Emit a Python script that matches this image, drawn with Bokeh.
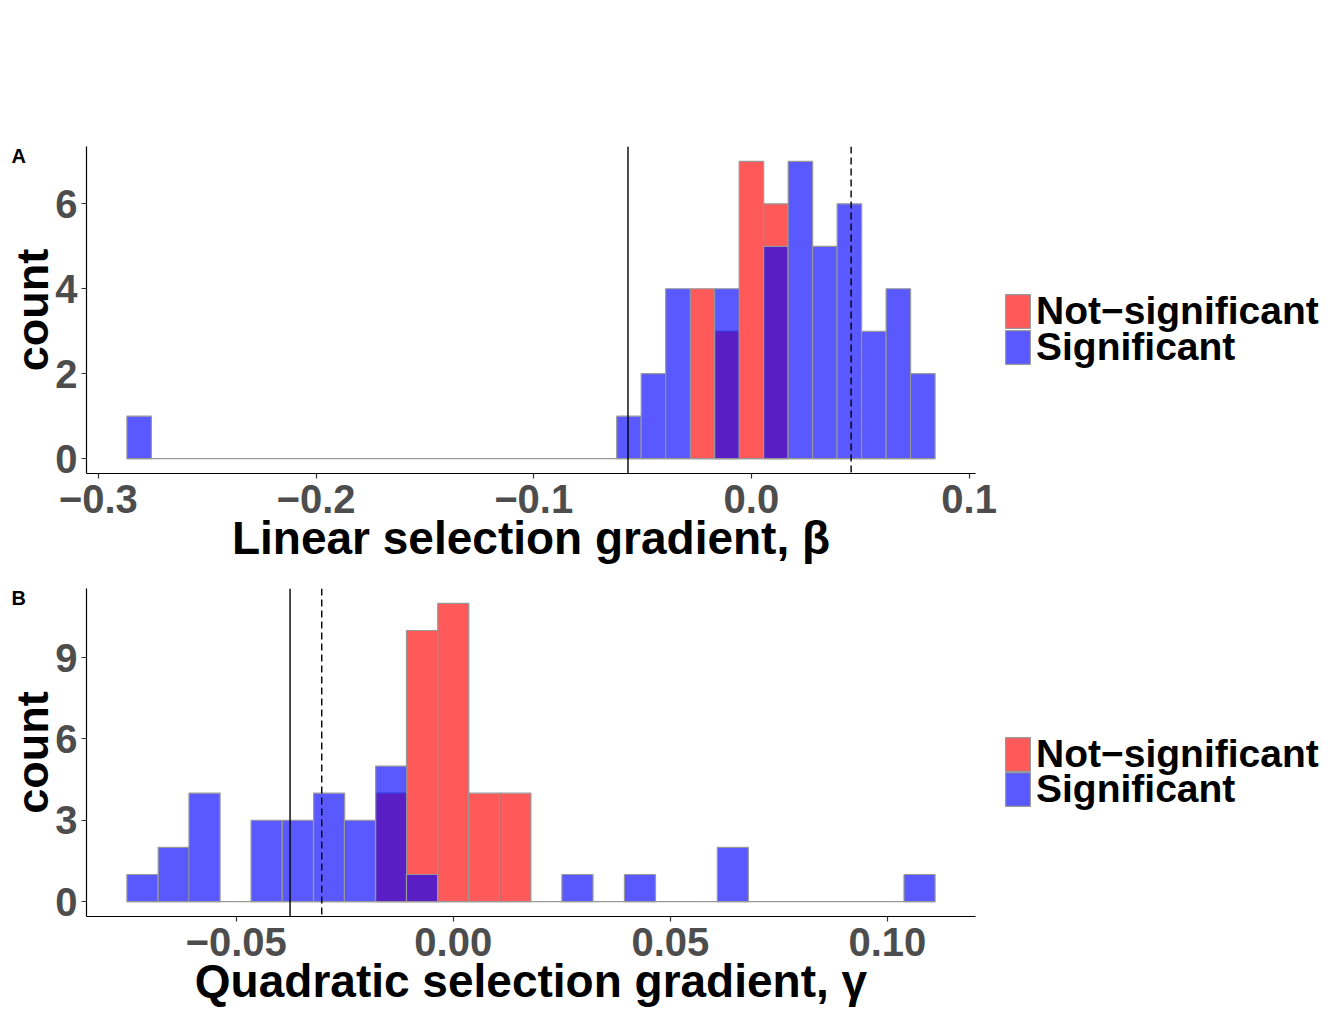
from bokeh.plotting import figure
from bokeh.models import Range1d, Span, Legend, LegendItem, Title, FixedTicker
from bokeh.layouts import column, row
from bokeh.embed import file_html
from bokeh.resources import INLINE

FONT = "Liberation Sans"
NAN = float("nan")

# ---------------- Panel A: linear selection gradient (beta) ----------------
a_bin_width = 0.01125
a_sig_centers = [-0.28125, -0.05625, -0.04500, -0.03375, -0.01125, 0.01125,
                 0.02250, 0.03375, 0.04500, 0.05625, 0.06750, 0.07875]
a_sig_counts = [1, 1, 2, 4, 4, 5, 7, 5, 6, 3, 4, 2]
a_ns_centers = [-0.02250, -0.01125, 0.00000, 0.01125]
a_ns_counts = [4, 3, 7, 6]
a_solid_line = -0.0567
a_dashed_line = 0.0458
a_xticks = [-0.3, -0.2, -0.1, 0.0, 0.1]
a_xtick_labels = ["\u22120.3", "\u22120.2", "\u22120.1", "0.0", "0.1"]
a_yticks = [0, 2, 4, 6]

# ---------------- Panel B: quadratic selection gradient (gamma) ----------------
b_bin_width = 0.00716
b_sig_centers = [-0.0716, -0.0644, -0.0573, -0.0430, -0.0358, -0.0286, -0.0215,
                 -0.0143, -0.0072, 0.0286, 0.0430, 0.0644, 0.1074]
b_sig_counts = [1, 2, 4, 3, 3, 4, 3, 5, 1, 1, 1, 2, 1]
b_ns_centers = [-0.0143, -0.0072, 0.0000, 0.0072, 0.0143]
b_ns_counts = [4, 10, 11, 4, 4]
b_solid_line = -0.0376
b_dashed_line = -0.0303
b_xticks = [-0.05, 0.0, 0.05, 0.10]
b_xtick_labels = ["\u22120.05", "0.00", "0.05", "0.10"]
b_yticks = [0, 3, 6, 9]

legend_labels = ["Not\u2212significant", "Significant"]
NS_COLOR = "#FF0000"
SIG_COLOR = "#0000FF"
OUTLINE = "#999999"

LEFT, RIGHT = 86, 27
MAIN_W = 1002
LEG_W = 336


def bar_style(color):
    return dict(fill_color=color, fill_alpha=0.65, line_color=OUTLINE, line_width=1.2)


def make_panel(letter, xtitle, sig_c, sig_n, ns_c, ns_n, w, solid, dashed,
               xticks, xlabels, yticks, height, top, bottom):
    all_c = sig_c + ns_c
    lo = min(all_c) - w / 2
    hi = max(all_c) + w / 2
    pad = 0.05 * (hi - lo)
    ymax = max(sig_n + ns_n)
    p = figure(width=MAIN_W, height=height,
               x_range=Range1d(lo - pad, hi + pad),
               y_range=Range1d(-0.05 * ymax, ymax * 1.05),
               output_backend="svg", toolbar_location=None,
               min_border_left=LEFT, min_border_right=RIGHT,
               min_border_top=top, min_border_bottom=bottom,
               background_fill_color="white", border_fill_color="white",
               outline_line_color=None)
    p.xgrid.visible = False
    p.ygrid.visible = False

    # zero baseline drawn by the empty bins
    p.segment(x0=[lo], y0=[0], x1=[hi], y1=[0], line_color=OUTLINE, line_width=1.2)

    p.quad(left=[c - w / 2 for c in ns_c], right=[c + w / 2 for c in ns_c],
           bottom=0, top=ns_n, **bar_style(NS_COLOR))
    p.quad(left=[c - w / 2 for c in sig_c], right=[c + w / 2 for c in sig_c],
           bottom=0, top=sig_n, **bar_style(SIG_COLOR))

    p.add_layout(Span(location=solid, dimension="height", line_color="black", line_width=1.4))
    p.add_layout(Span(location=dashed, dimension="height", line_color="black", line_width=1.4,
                      line_dash="7 4"))

    for ax in (p.xaxis[0], p.yaxis[0]):
        ax.axis_line_color = "black"
        ax.axis_line_width = 1.2
        ax.major_tick_line_color = "#333333"
        ax.major_tick_line_width = 1.2
        ax.major_tick_in = 0
        ax.major_tick_out = 5
        ax.minor_tick_line_color = None
        ax.major_label_text_font = FONT
        ax.major_label_text_font_style = "bold"
        ax.major_label_text_font_size = "40px"
        ax.major_label_text_color = "#4D4D4D"
        ax.axis_label_text_font = FONT
        ax.axis_label_text_font_style = "bold"
        ax.axis_label_text_color = "black"
    xa, ya = p.xaxis[0], p.yaxis[0]
    xa.ticker = FixedTicker(ticks=xticks)
    xa.major_label_overrides = {t: s for t, s in zip(xticks, xlabels)}
    xa.major_label_standoff = 6
    xa.axis_label = xtitle
    xa.axis_label_text_font_size = "46px"
    xa.axis_label_standoff = -4
    ya.ticker = FixedTicker(ticks=yticks)
    ya.major_label_standoff = 4
    ya.axis_label = "count"
    ya.axis_label_text_font_size = "45px"
    ya.axis_label_standoff = -6

    p.add_layout(Title(text=letter, align="left", offset=-75, standoff=-40,
                       text_font=FONT, text_font_style="bold", text_font_size="20px",
                       text_color="black"), "above")
    return p


def make_legend(height, top, bottom, offsets):
    # side figure holding the legend; borders match the panel so frames align
    lf = figure(width=LEG_W, height=height, x_range=Range1d(0, 1), y_range=Range1d(0, 1),
                output_backend="svg", toolbar_location=None,
                min_border_left=0, min_border_right=0,
                min_border_top=top, min_border_bottom=bottom,
                outline_line_color=None, x_axis_location=None, y_axis_location=None,
                background_fill_color="white", border_fill_color="white")
    lf.xgrid.visible = False
    lf.ygrid.visible = False
    # key-only renderers (no visible marks), styled like the bars
    r_ns = lf.quad(left=[NAN], right=[NAN], bottom=[NAN], top=[NAN], **bar_style(NS_COLOR))
    r_sig = lf.quad(left=[NAN], right=[NAN], bottom=[NAN], top=[NAN], **bar_style(SIG_COLOR))
    for label, rend, vy in zip(legend_labels, [r_ns, r_sig], offsets):
        lf.add_layout(Legend(items=[LegendItem(label=label, renderers=[rend])],
                             location=(0, vy), orientation="vertical",
                             glyph_width=31, glyph_height=42, label_standoff=3,
                             spacing=0, padding=0, margin=0,
                             border_line_color=None, background_fill_alpha=0,
                             label_text_font=FONT, label_text_font_style="bold",
                             label_text_font_size="39px", label_text_color="black",
                             label_height=30))
    return lf


pA = make_panel("A", "Linear selection gradient, \u03b2", a_sig_centers, a_sig_counts,
                a_ns_centers, a_ns_counts, a_bin_width, a_solid_line, a_dashed_line,
                a_xticks, a_xtick_labels, a_yticks, 580, 146, 107)
pB = make_panel("B", "Quadratic selection gradient, \u03b3", b_sig_centers, b_sig_counts,
                b_ns_centers, b_ns_counts, b_bin_width, b_solid_line, b_dashed_line,
                b_xticks, b_xtick_labels, b_yticks, 429, 8, 93)
lA = make_legend(580, 146, 107, [140, 104])
lB = make_legend(429, 8, 93, [140, 105])

layout = column(row(pA, lA, spacing=0), row(pB, lB, spacing=0), spacing=0)
open("out.html", "w").write(file_html(layout, INLINE))
